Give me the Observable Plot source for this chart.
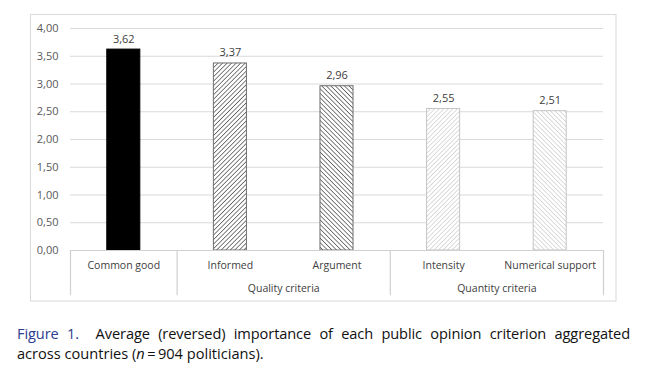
<!DOCTYPE html>
<html>
<head>
<meta charset="utf-8">
<script src="https://cdn.jsdelivr.net/npm/d3@7"></script>
<script src="https://cdn.jsdelivr.net/npm/@observablehq/plot@0.6"></script>
<style>
  html, body { margin: 0; padding: 0; background: #fff; }
  #wrap { position: relative; width: 647px; }
  #caption {
    font-family: "Open Sans", sans-serif;
    font-size: 14.6px;
    line-height: 20px;
    color: #111;
    width: 613px;
    margin: 17px 0 0 17px;
  }
  #caption .l1 { text-align: justify; text-align-last: justify; white-space: nowrap; letter-spacing: -0.1px; }
  #caption .l2 { text-align: left; }
  #caption b { color: #2a3d8f; font-weight: 400; }
</style>
</head>
<body>
<div id="wrap"><div id="chart"></div>
<div id="caption"><div class="l1"><b>Figure 1.</b>&nbsp; Average (reversed) importance of each public opinion criterion aggregated</div><div class="l2">across countries (<i>n</i>&#8201;=&#8201;904 politicians).</div></div>
</div>
<script>
const categories = ["Common good", "Informed", "Argument", "Intensity", "Numerical support"];
const values = [3.62, 3.37, 2.96, 2.55, 2.51];
const groupLabels = ["Quality criteria", "Quantity criteria"];
const groupCenters = [2, 4];          // centre position (in category units) of each group
const separators = [0, 1, 3, 5];      // category-unit boundaries of the grouped axis
const yTicks = [0, 0.5, 1, 1.5, 2, 2.5, 3, 3.5, 4];

const fills = ["#000000", "url(#hatchDarkF)", "url(#hatchDarkB)", "url(#hatchLightF)", "url(#hatchLightB)"];
const strokes = ["#000000", "#6e6e6e", "#6e6e6e", "#c4c4c4", "#c4c4c4"];

const data = categories.map((c, i) => ({cat: c, i, value: values[i], fill: fills[i], stroke: strokes[i]}));
const comma = v => d3.format(".2f")(v).replace(".", ",");
const font = "'Open Sans', sans-serif";

const plot = Plot.plot({
  width: 647,
  height: 306,
  marginLeft: 70,
  marginRight: 44,
  marginTop: 28,
  marginBottom: 56,
  style: {fontFamily: font, fontSize: "10.5px", color: "#404040", background: "transparent"},
  x: {type: "linear", domain: [0, 5], axis: null},
  y: {domain: [0, 4], axis: null},
  marks: [
    Plot.ruleY(yTicks, {stroke: "#d9d9d9", strokeWidth: 1.2}),
    Plot.text(yTicks, {x: 0, y: d => d, text: d => comma(d), textAnchor: "end", dx: -12, fill: "#595959", fontSize: 11}),
    Plot.rectY(data, {
      x1: d => d.i + 0.345, x2: d => d.i + 0.655, y1: 0, y2: "value",
      fill: d => d.fill, stroke: d => d.stroke, strokeWidth: 1
    }),
    Plot.text(data, {x: d => d.i + 0.5, y: "value", text: d => comma(d.value), lineAnchor: "bottom", dy: -7, fill: "#404040", fontSize: 11}),
    Plot.ruleX(separators, {y1: 0, y2: -0.815, stroke: "#d0d0d0", strokeWidth: 1.2}),
    Plot.ruleY([0], {x1: 0, x2: 5, stroke: "#d0d0d0", strokeWidth: 1.2}),
    Plot.text(data, {x: d => d.i + 0.5, y: 0, text: "cat", dy: 15, fill: "#404040", fontSize: 10.5}),
    Plot.text(groupLabels, {x: (d, k) => groupCenters[k], y: 0, text: d => d, dy: 38, fill: "#404040", fontSize: 10.5})
  ]
});

// pattern definitions for the hatched bars
const svg = d3.select(plot);
const defs = svg.insert("defs", ":first-child");
function hatch(id, color, dir, sw) {
  const p = defs.append("pattern").attr("id", id).attr("patternUnits", "userSpaceOnUse")
    .attr("width", 3.2).attr("height", 3.2)
    .attr("patternTransform", `rotate(${dir > 0 ? 45 : -45})`);
  p.append("rect").attr("width", 3.2).attr("height", 3.2).attr("fill", "#fff");
  p.append("line").attr("x1", 0).attr("y1", 0).attr("x2", 0).attr("y2", 3.2)
    .attr("stroke", color).attr("stroke-width", sw);
}
hatch("hatchDarkF", "#3c3c3c", 1, 1.3);
hatch("hatchDarkB", "#3c3c3c", -1, 1.3);
hatch("hatchLightF", "#c0c0c0", 1, 1.1);
hatch("hatchLightB", "#c0c0c0", -1, 1.1);

// outer chart frame (decoration)
svg.insert("rect", "defs + *").attr("x", 30.5).attr("y", 14.5).attr("width", 585.5).attr("height", 286.5)
  .attr("fill", "none").attr("stroke", "#d9d9d9").attr("stroke-width", 1);

document.getElementById("chart").appendChild(plot);
</script>
</body>
</html>
